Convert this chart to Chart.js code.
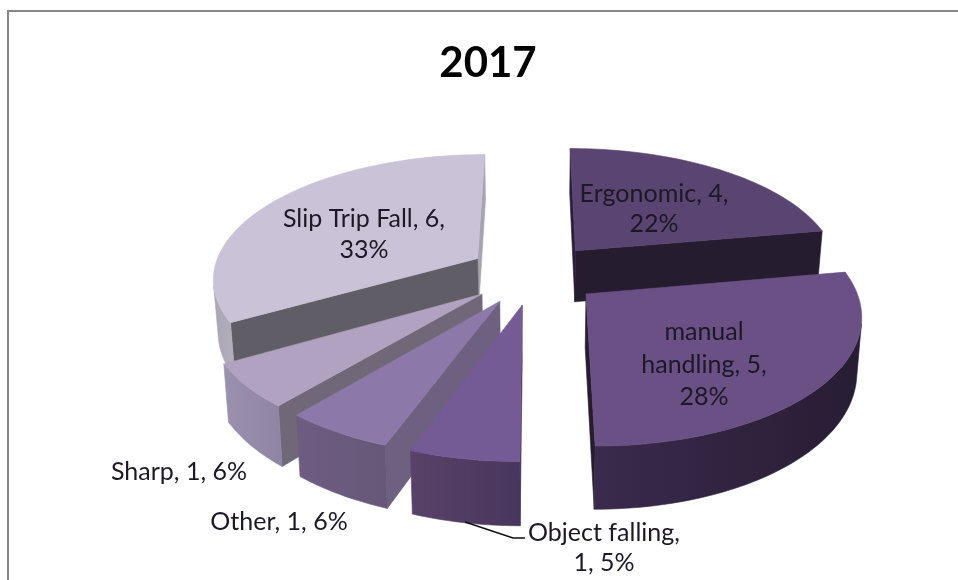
<!DOCTYPE html>
<html><head><meta charset="utf-8">
<style>html,body{margin:0;padding:0;background:#fff}canvas{display:block}</style>
<script src="https://cdn.jsdelivr.net/npm/chart.js@4"></script>
</head><body><canvas id="c" width="958" height="580"></canvas>
<script>
const chartTitle = "2017";
const categories = ["Ergonomic", "manual handling", "Object falling", "Other", "Sharp", "Slip Trip Fall"];
const values = [4, 5, 1, 1, 1, 6];
const percents = ["22%", "28%", "5%", "6%", "6%", "33%"];

const topColors = ["#5a4572", "#6a5085", "#755b96", "#8d79a9", "#b0a2c0", "#cac2d6"];
const wallLeft  = ["#2a1f38", "#3a2a4c", "#584268", "#6e5c82", "#9b91ae", "#aaa5b4"];
const wallRight = ["#241a2e", "#271d33", "#49365e", "#665878", "#8f84a3", "#b4afbd"];
const startFace = ["#2a1f38", "#2a1f38", "#4a3760", "#6d6080", "#706878", "#615d66"];
const endFace   = ["#261c30", "#261c30", "#4a3760", "#6d6080", "#706878", "#a8a3b0"];

const labelLines = [
  [categories[0] + ", " + values[0] + ",", percents[0]],
  ["manual", "handling, " + values[1] + ",", percents[1]],
  [categories[2] + ",", values[2] + ", " + percents[2]],
  [categories[3] + ", " + values[3] + ", " + percents[3]],
  [categories[4] + ", " + values[4] + ", " + percents[4]],
  [categories[5] + ", " + values[5] + ",", percents[5]]
];
const labelAnchors = [[654,194,30],[704,332,32.5],[604,533,30],[279,522,0],[179,472,0],[364,219,31]];
const leader = [[465,522],[513,538],[525,538]];

// Perspective view of the exploded pie
const VIEW = {cx:534, vy:-571, b:844.7, q:0.146, a:265, h:52.5, shrink:0.985, explode:0.25};
function project(X, Y, lower){
  const w = 1 - VIEW.q * Y;
  let x = VIEW.a * X / w;
  let y = VIEW.vy + VIEW.b / w;
  if (lower){ x *= VIEW.shrink; y += VIEW.h / w; }
  return [VIEW.cx + x, y];
}
function pathOf(ctx, pts){
  ctx.beginPath();
  pts.forEach((p,i)=> i ? ctx.lineTo(p[0],p[1]) : ctx.moveTo(p[0],p[1]));
  ctx.closePath();
}
function fillPoly(ctx, pts, fill){
  pathOf(ctx, pts);
  ctx.fillStyle = fill;
  ctx.fill();
  ctx.strokeStyle = fill;
  ctx.lineWidth = 0.6;
  ctx.stroke();
}
function visible(a, b, a2){
  return (b[0]-a[0])*(a2[1]-a[1]) - (b[1]-a[1])*(a2[0]-a[0]) < 0;
}
const pie3d = {
  id:'pie3d',
  beforeDraw(chart){
    const c = chart.ctx;
    c.save();
    c.fillStyle = "#fff"; c.fillRect(0,0,958,580);
    c.strokeStyle = "#868686"; c.lineWidth = 2;
    c.beginPath(); c.moveTo(8,580); c.lineTo(8,11); c.lineTo(958,11); c.stroke();
    c.restore();
  },
  beforeDatasetsDraw(chart){
    const c = chart.ctx;
    const arcs = chart.getDatasetMeta(0).data;
    const order = arcs.map((arc,i)=>{
      const s = arc.startAngle + Math.PI/2, e = arc.endAngle + Math.PI/2;
      return {i, s, e, m:(s+e)/2};
    }).sort((p,q)=> -Math.cos(p.m) + Math.cos(q.m));
    c.save();
    order.forEach(({i,s,e,m})=>{
      const ox = VIEW.explode*Math.sin(m), oy = -VIEW.explode*Math.cos(m);
      const steps = Math.max(8, Math.round((e-s)*40));
      const world = [];
      for (let k=0;k<=steps;k++){
        const t = s + (e-s)*k/steps;
        world.push([ox+Math.sin(t), oy-Math.cos(t)]);
      }
      const upper = world.map(p=>project(p[0],p[1],false));
      const lower = world.map(p=>project(p[0],p[1],true));
      const apexU = project(ox,oy,false), apexL = project(ox,oy,true);
      // radial cut faces
      const n = steps;
      if (visible(upper[n], apexU, lower[n])) fillPoly(c,[upper[n],apexU,apexL,lower[n]],endFace[i]);
      if (visible(apexU, upper[0], apexL)) fillPoly(c,[apexU,upper[0],lower[0],apexL],startFace[i]);
      // curved outer wall
      const idx = [];
      for (let k=0;k<n;k++) if (visible(upper[k],upper[k+1],lower[k])) idx.push(k);
      if (idx.length){
        const first = idx[0], last = idx[idx.length-1]+1;
        const pts = [];
        for (let k=first;k<=last;k++) pts.push(upper[k]);
        for (let k=last;k>=first;k--) pts.push(lower[k]);
        const xs = pts.map(p=>p[0]);
        const g = c.createLinearGradient(Math.min(...xs),0,Math.max(...xs),0);
        g.addColorStop(0,wallLeft[i]); g.addColorStop(1,wallRight[i]);
        fillPoly(c,pts,g);
      }
      fillPoly(c,[apexU,...upper],topColors[i]);
    });
    // leader line
    c.strokeStyle = "#111"; c.lineWidth = 1.6;
    c.beginPath();
    leader.forEach((p,k)=> k ? c.lineTo(p[0],p[1]) : c.moveTo(p[0],p[1]));
    c.stroke();
    // data labels
    c.fillStyle = "#1c1826";
    c.font = "25px Lato";
    c.textAlign = "center";
    c.textBaseline = "middle";
    labelLines.forEach((lines,i)=>{
      const [x,y,dy] = labelAnchors[i];
      lines.forEach((t,k)=> c.fillText(t, x, y + k*dy));
    });
    c.restore();
    return false;
  }
};
new Chart(document.getElementById('c'), {
  type:'pie',
  data:{labels:categories, datasets:[{data:values, backgroundColor:topColors, borderWidth:0}]},
  options:{
    responsive:false, animation:false,
    layout:{padding:{left:18, top:0}},
    plugins:{
      legend:{display:false}, tooltip:{enabled:false},
      title:{display:true, text:chartTitle, color:"#000", align:'center',
             font:{family:"Lato", size:42, weight:'bold'}, padding:{top:38, bottom:10}}
    }
  },
  plugins:[pie3d]
});
</script></body></html>
